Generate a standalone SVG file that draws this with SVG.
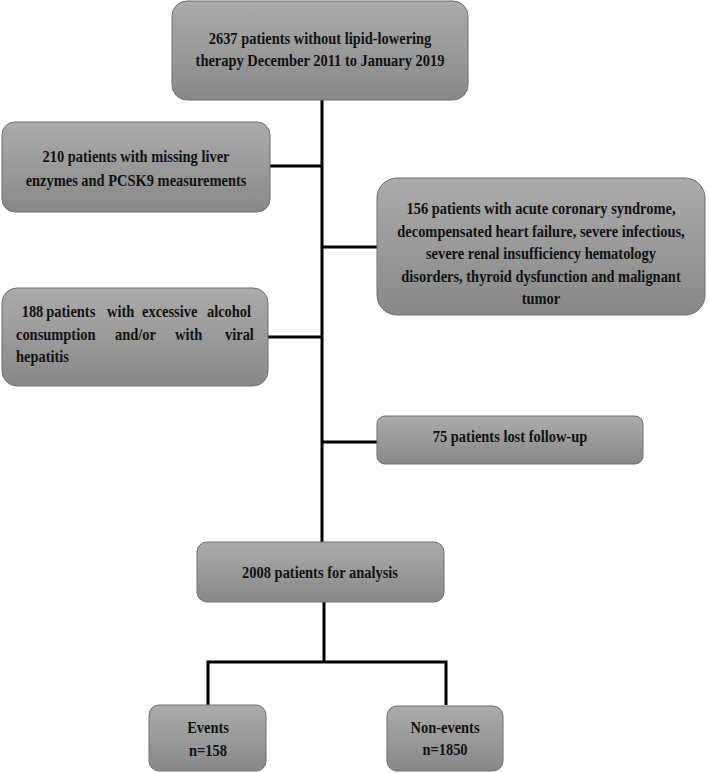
<svg xmlns="http://www.w3.org/2000/svg" width="709" height="773" viewBox="0 0 709 773">
<defs>
<linearGradient id="g" x1="0" y1="0" x2="0" y2="1">
<stop offset="0" stop-color="#ababab"/>
<stop offset="1" stop-color="#888888"/>
</linearGradient>
<style>
.box{fill:url(#g);stroke:#6f6f6f;stroke-width:1}
.t{font-family:"Liberation Serif","Times New Roman",serif;font-weight:bold;font-size:17px;fill:#111}
.c{text-anchor:middle}
.ln{fill:none;stroke:#000;stroke-width:3}
</style>
</defs>
<rect width="709" height="773" fill="#fff"/>
<g id="connectors">
<path class="ln" d="M322 100V542"/>
<path class="ln" d="M270 166H322"/>
<path class="ln" d="M322 247H377"/>
<path class="ln" d="M268 337H322"/>
<path class="ln" d="M322 442H377"/>
<path class="ln" d="M324 602V662"/>
<path class="ln" d="M208 705V662H446V705"/>
</g>
<g id="n-start">
<rect class="box" x="172" y="1" width="296" height="99" rx="15"/>
<text class="t c" transform="translate(320 0) scale(0.85 1)" x="0" y="44">2637 patients without lipid-lowering</text>
<text class="t c" transform="translate(320 0) scale(0.85 1)" x="0" y="66">therapy December 2011 to January 2019</text>
</g>
<g id="n-missing">
<rect class="box" x="2" y="122" width="268" height="90" rx="13"/>
<text class="t c" transform="translate(136 0) scale(0.85 1)" x="0" y="162">210 patients with missing liver</text>
<text class="t c" transform="translate(136 0) scale(0.85 1)" x="0" y="186">enzymes and PCSK9 measurements</text>
</g>
<g id="n-acs">
<rect class="box" x="377" y="178" width="328" height="137" rx="20"/>
<text class="t c" transform="translate(541 0) scale(0.85 1)" x="0" y="214">156 patients with acute coronary syndrome,</text>
<text class="t c" transform="translate(541 0) scale(0.85 1)" x="0" y="237">decompensated heart failure, severe infectious,</text>
<text class="t c" transform="translate(541 0) scale(0.85 1)" x="0" y="259">severe renal insufficiency hematology</text>
<text class="t c" transform="translate(541 0) scale(0.85 1)" x="0" y="282">disorders, thyroid dysfunction and malignant</text>
<text class="t c" transform="translate(541 0) scale(0.85 1)" x="0" y="304">tumor</text>
</g>
<g id="n-alcohol">
<rect class="box" x="2" y="288" width="266" height="98" rx="15"/>
<text class="t" transform="scale(0.85 1)" y="317"><tspan x="25.5">188</tspan><tspan x="54.5">patients</tspan><tspan x="125.9">with</tspan><tspan x="167.1">excessive</tspan><tspan x="243.5">alcohol</tspan></text>
<text class="t" transform="scale(0.85 1)" y="340"><tspan x="18.8">consumption</tspan><tspan x="135.3">and/or</tspan><tspan x="205.9">with</tspan><tspan x="264.7">viral</tspan></text>
<text class="t" transform="scale(0.85 1)" x="18.8" y="362">hepatitis</text>
</g>
<g id="n-lost">
<rect class="box" x="377" y="416" width="266" height="48" rx="8"/>
<text class="t c" transform="translate(510 0) scale(0.85 1)" x="0" y="442">75 patients lost follow-up</text>
</g>
<g id="n-analysis">
<rect class="box" x="197" y="542" width="247" height="60" rx="10"/>
<text class="t c" transform="translate(320 0) scale(0.85 1)" x="0" y="578">2008 patients for analysis</text>
</g>
<g id="n-events">
<rect class="box" x="149" y="705" width="117" height="66" rx="10"/>
<text class="t c" transform="translate(208 0) scale(0.85 1)" x="0" y="733">Events</text>
<text class="t c" transform="translate(208 0) scale(0.85 1)" x="0" y="756">n=158</text>
</g>
<g id="n-nonevents">
<rect class="box" x="387" y="706" width="116" height="65" rx="10"/>
<text class="t c" transform="translate(445 0) scale(0.85 1)" x="0" y="733">Non-events</text>
<text class="t c" transform="translate(445 0) scale(0.85 1)" x="0" y="755">n=1850</text>
</g>
</svg>
